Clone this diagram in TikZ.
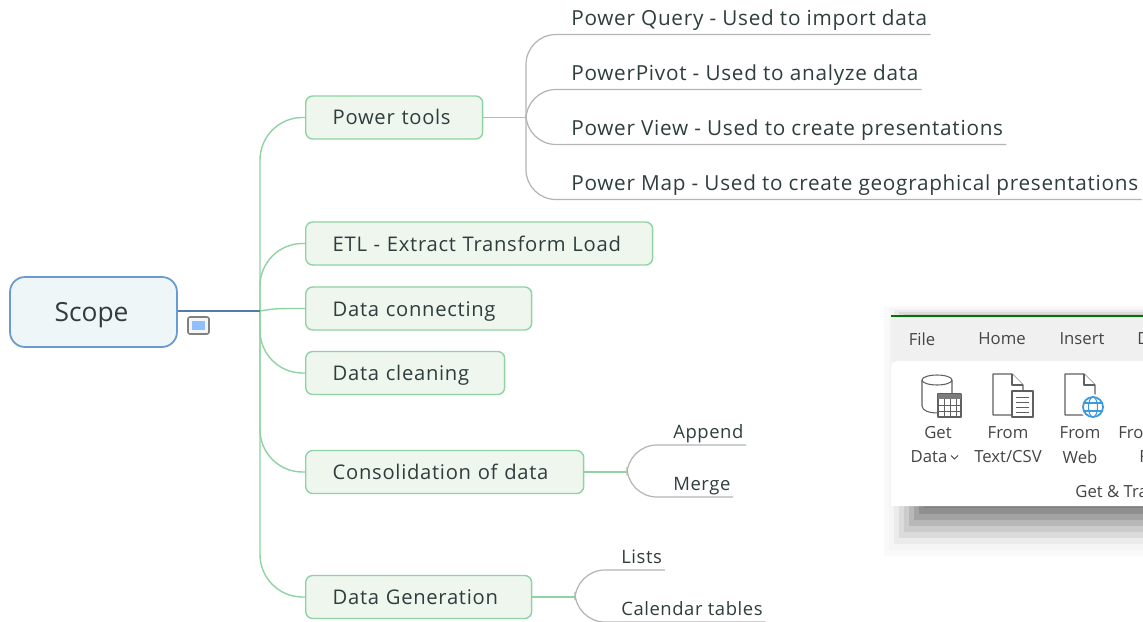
\documentclass[tikz,border=0pt]{standalone}
\usepackage{fontspec}
\setmainfont{Open Sans}
\newfontfamily\spacedfont[LetterSpace=3.5]{Open Sans}
\newfontfamily\sidefont[LetterSpace=3]{Open Sans}
\definecolor{inkc}{HTML}{2F3D3D}
\definecolor{branchc}{HTML}{8FD3A5}
\definecolor{boxfill}{HTML}{EEF6EE}
\definecolor{rootline}{HTML}{6A9AD0}
\definecolor{rootfill}{HTML}{EEF6F7}
\definecolor{leafline}{HTML}{B4B4B4}
\definecolor{tabfill}{HTML}{F0F0F0}
\definecolor{ribbonink}{HTML}{444444}
\definecolor{globec}{HTML}{3C9BE0}
\definecolor{notefillc}{HTML}{8FBFFF}
\tikzset{
    rootbox/.style={draw=rootline,fill=rootfill,line width=1pt,rounded corners=0.3cm,text=inkc,minimum width=3.34cm,minimum height=1.4cm,text height=0.48cm,text depth=0.12cm,font=\fontsize{15}{18}\selectfont,execute at begin node={\hspace*{-0.08cm}}},
    topicbox/.style={draw=branchc,fill=boxfill,line width=0.8pt,rounded corners=0.14cm,text=inkc,minimum width=#1,text width=#1-1.08cm,align=left,inner xsep=0.54cm,minimum height=0.86cm,text height=0.4cm,text depth=0.1cm,anchor=west,font=\spacedfont\fontsize{11.5}{14}\selectfont},
    leaftext/.style={anchor=south west,text=inkc,inner xsep=0.06cm,inner ysep=0.08cm,text height=0.3cm,text depth=0.1cm,font=\spacedfont\fontsize{11.8}{14}\selectfont,execute at begin node={\hspace*{0.18cm}}},
    sidetext/.style={anchor=south west,text=inkc,inner xsep=0.05cm,inner ysep=0.02cm,text height=0.3cm,text depth=0.1cm,font=\sidefont\fontsize{10.5}{13}\selectfont,execute at begin node={\hspace*{0.07cm}}},
    branch/.style={draw=branchc,line width=0.8pt,rounded corners=0.85cm},
    leafbranch/.style={draw=leafline,line width=0.7pt,rounded corners=0.6cm},
    ribbontext/.style={text=ribbonink,inner sep=0pt,font=\fontsize{9.5}{11}\selectfont},
    iconline/.style={draw=ribbonink!85,line width=0.6pt,fill=white,line join=round}
}
\begin{document}
\begin{tikzpicture}[x=0.02cm,y=-0.02cm]
        \useasboundingbox (0,0) rectangle (1143,622);
        \clip (0,0) rectangle (1143,622);
        \foreach \i/\s in {0/2,1/4,2/8,3/14,4/20,5/28,6/36,7/44,8/50}
            \fill[black!\s] (884+\i*5,306+\i*2) rectangle (1143,556-\i*6);
        \fill[tabfill] (891,316) rectangle (1143,361);
        \draw[green!45!black,line width=0.6pt] (891,316) -- (1143,316);
        \fill[white,rounded corners=0.14cm] (891,506) -- (891,361) -- (1160,361) -- (1160,506) -- cycle;
        \fill[white] (891,495) rectangle (1143,506);
        \node[ribbontext] (tabfile) at (922,339) {File};
        \node[ribbontext] (tabhome) at (1002,339) {Home};
        \node[ribbontext] (tabinsert) at (1082,339) {Insert};
        \node[ribbontext,anchor=west] (tabdata) at (1137,339) {D};
        \node[ribbontext] (getlabel) at (938,433) {Get};
        \node[ribbontext] (datalabel) at (929,457) {Data};
        \draw[ribbonink,line width=0.5pt] (951,455.5) -- (954.5,459) -- (958,455.5);
        \node[ribbontext] (fromcsv) at (1008,433) {From};
        \node[ribbontext] (csvlabel) at (1008,457) {Text/CSV};
        \node[ribbontext] (fromweb) at (1080,433) {From};
        \node[ribbontext] (weblabel) at (1080,457) {Web};
        \node[ribbontext,anchor=west] (fromnext) at (1118,433) {Fro};
        \node[ribbontext,anchor=west] (nextlabel) at (1139,457) {F};
        \node[ribbontext,anchor=west] (grouplabel) at (1075,492) {Get \& Tra};
        \draw[iconline] (922,380) -- (922,406) .. controls (922,411) and (930,413) .. (938,413) -- (952,413) -- (952,380);
        \draw[iconline] (937,380) ellipse [x radius=15,y radius=5];
        \draw[iconline] (938,394) rectangle (961,417);
        \fill[ribbonink!70] (938,394) rectangle (961,399);
        \foreach \i in {944,950,956}
            \draw[ribbonink!85,line width=0.4pt] (\i,399) -- (\i,417);
        \foreach \i in {405,411}
            \draw[ribbonink!85,line width=0.4pt] (938,\i) -- (961,\i);
        \draw[iconline] (993,374) -- (1012,374) -- (1023,385) -- (1023,415) -- (993,415) -- cycle;
        \draw[iconline] (1012,374) -- (1012,385) -- (1023,385);
        \draw[iconline] (1012,391) rectangle (1033,417);
        \foreach \i in {397,402,407,412}
            \draw[ribbonink!85,line width=0.4pt] (1016,\i) -- (1029,\i);
        \draw[iconline] (1065,374) -- (1084,374) -- (1095,385) -- (1095,415) -- (1065,415) -- cycle;
        \draw[iconline] (1084,374) -- (1084,385) -- (1095,385);
        \fill[white] (1093,407) circle (13);
        \draw[globec,line width=1pt] (1093,407) circle (10);
        \draw[globec,line width=0.6pt] (1093,407) ellipse [x radius=4.5,y radius=10];
        \draw[globec,line width=0.6pt] (1083,403) -- (1103,403) (1083,411) -- (1103,411);
        \node[rootbox] (scope) at (93.5,312) {Scope};
        \node[draw=gray,fill=gray!8,line width=0.9pt,rounded corners=0.04cm,minimum width=0.42cm,minimum height=0.34cm,inner sep=0pt] (noteicon) at (198.5,325.5) {};
        \node[fill=notefillc,minimum width=0.26cm,minimum height=0.18cm,inner sep=0pt] (notefill) at (noteicon.center) {};
        \coordinate (hub) at (260,311);
        \node[topicbox=3.54cm] (tools) at (305,117.5) {Power tools};
        \node[topicbox=6.94cm] (etl) at (305,243.5) {ETL - Extract Transform Load};
        \node[topicbox=4.52cm] (connecting) at (305,308.5) {Data connecting};
        \node[topicbox=3.98cm] (cleaning) at (305,373) {Data cleaning};
        \node[topicbox=5.56cm] (consolidation) at (305,472) {Consolidation of data};
        \node[topicbox=4.52cm] (generation) at (305,597) {Data Generation};
        \draw[branch] (hub) |- (tools.west);
        \draw[branch] (hub) |- (etl.west);
        \draw[branch] (hub) .. controls (275,308.5) .. (connecting.west);
        \draw[branch] (hub) |- (cleaning.west);
        \draw[branch] (hub) |- (consolidation.west);
        \draw[branch] (hub) |- (generation.west);
        \draw[draw=rootline!80!black,line width=0.8pt] (scope.east |- hub) -- (hub);
        \coordinate (toolsfork) at (526,117.5);
        \coordinate (consfork) at (627,472);
        \coordinate (genfork) at (575,597);
        \node[leaftext] (query) at (559,34.5) {Power Query - Used to import data};
        \node[leaftext] (pivot) at (559,89.5) {PowerPivot - Used to analyze data};
        \node[leaftext] (view) at (559,144.5) {Power View - Used to create presentations};
        \node[leaftext] (map) at (559,199.5) {Power Map - Used to create geographical presentations};
        \node[sidetext] (append) at (667,445) {Append};
        \node[sidetext] (merge) at (667,497) {Merge};
        \node[sidetext] (lists) at (615,570) {Lists};
        \node[sidetext] (calendar) at (615,622) {Calendar tables};
        \foreach \leaf in {query,pivot,view,map}
            \draw[leafbranch] (toolsfork) |- (\leaf.south east);
        \foreach \leaf in {append,merge}
            \draw[leafbranch] (consfork) |- (\leaf.south east);
        \foreach \leaf in {lists,calendar}
            \draw[leafbranch] (genfork) |- (\leaf.south east);
        \draw[branch] (tools.east) -- (toolsfork);
        \draw[branch] (consolidation.east) -- (consfork);
        \draw[branch] (generation.east) -- (genfork);
    \end{tikzpicture}
\end{document}
